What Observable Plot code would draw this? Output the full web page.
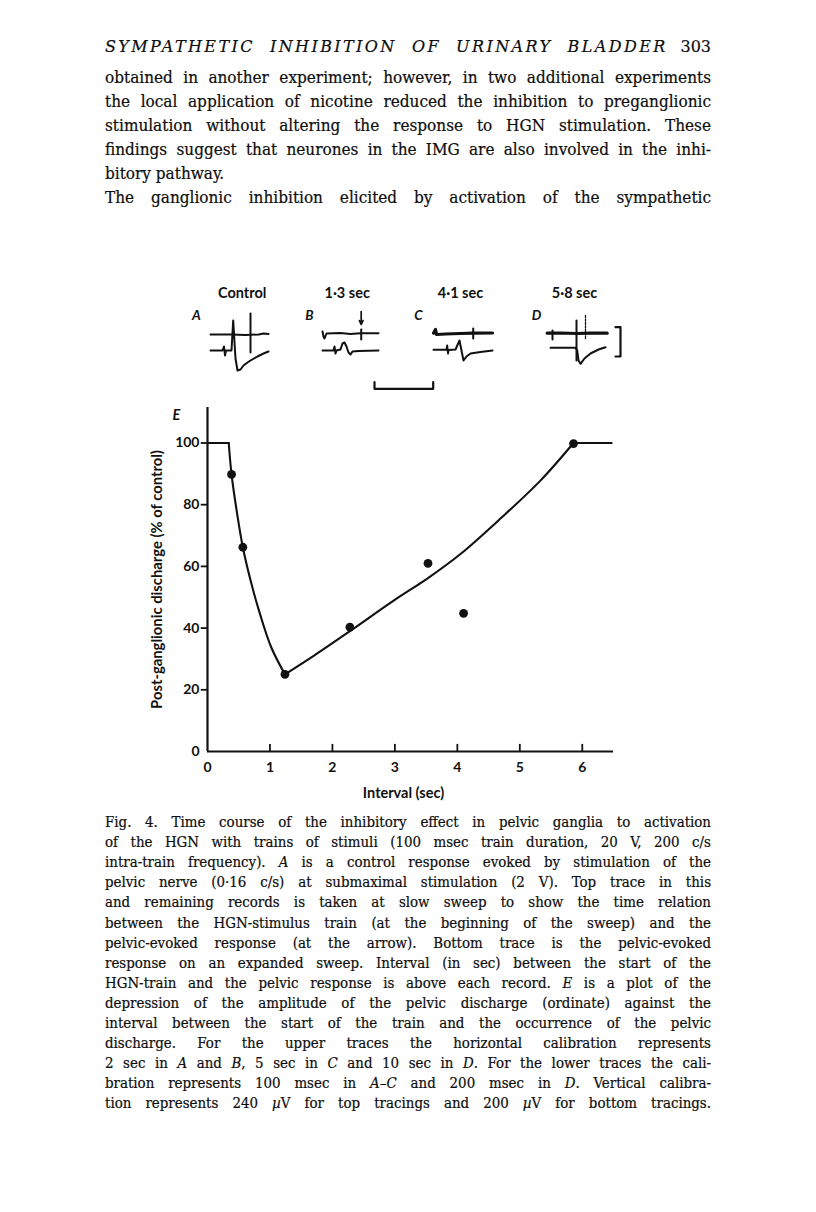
<!DOCTYPE html>
<html><head><meta charset="utf-8">
<script src="https://cdn.jsdelivr.net/npm/d3@7"></script>
<script src="https://cdn.jsdelivr.net/npm/@observablehq/plot@0.6"></script>
<style>
html,body{margin:0;padding:0;background:#fff;}
body{width:816px;height:1212px;position:relative;overflow:hidden;color:#0d0d0d;}
.ln{position:absolute;left:105px;width:606px;white-space:nowrap;text-align:justify;text-align-last:justify;font-family:"DejaVu Serif Condensed","DejaVu Serif",serif;font-stretch:condensed;-webkit-text-stroke:0.2px #0d0d0d;}
.body{font-size:17px;height:24px;line-height:24px;}
.cap{font-size:14.9px;height:21px;line-height:21px;}
.left{text-align:left;text-align-last:left;}
.hdr{font-size:16px;height:24px;line-height:24px;font-family:"DejaVu Serif",serif;font-stretch:normal;}
.hdr i{letter-spacing:2.4px;}
.fig{position:absolute;}
</style></head><body>
<div id="text"></div>
<div id="traces" class="fig" style="left:180px;top:270px;"></div>
<div id="chart" class="fig" style="left:140px;top:395px;"></div>
<script>
// ---------- text ----------
const headerLine = "<i>SYMPATHETIC INHIBITION OF URINARY BLADDER</i> 303";
const bodyLines = [
  "obtained in another experiment; however, in two additional experiments",
  "the local application of nicotine reduced the inhibition to preganglionic",
  "stimulation without altering the response to HGN stimulation. These",
  "findings suggest that neurones in the IMG are also involved in the inhi-",
  "bitory pathway.",
  "The ganglionic inhibition elicited by activation of the sympathetic"
];
const captionLines = [
  "Fig. 4. Time course of the inhibitory effect in pelvic ganglia to activation",
  "of the HGN with trains of stimuli (100 msec train duration, 20 V, 200 c/s",
  "intra-train frequency). <i>A</i> is a control response evoked by stimulation of the",
  "pelvic nerve (0·16 c/s) at submaximal stimulation (2 V). Top trace in this",
  "and remaining records is taken at slow sweep to show the time relation",
  "between the HGN-stimulus train (at the beginning of the sweep) and the",
  "pelvic-evoked response (at the arrow). Bottom trace is the pelvic-evoked",
  "response on an expanded sweep. Interval (in sec) between the start of the",
  "HGN-train and the pelvic response is above each record. <i>E</i> is a plot of the",
  "depression of the amplitude of the pelvic discharge (ordinate) against the",
  "interval between the start of the train and the occurrence of the pelvic",
  "discharge. For the upper traces the horizontal calibration represents",
  "2 sec in <i>A</i> and <i>B</i>, 5 sec in <i>C</i> and 10 sec in <i>D</i>. For the lower traces the cali-",
  "bration represents 100 msec in <i>A–C</i> and 200 msec in <i>D</i>. Vertical calibra-",
  "tion represents 240 <i>µ</i>V for top tracings and 200 <i>µ</i>V for bottom tracings."
];

const textBox = document.getElementById("text");
function addLine(html, cls, top) {
  const d = document.createElement("div");
  d.className = "ln " + cls;
  d.style.top = top + "px";
  d.innerHTML = html;
  textBox.appendChild(d);
}
addLine(headerLine, "hdr", 35);
bodyLines.forEach((t, i) => addLine(t, "body" + (i === 4 ? " left" : ""), 65 + i * 24));
captionLines.forEach((t, i) => addLine(t, "cap", 812 + i * 20.1));

// ---------- oscilloscope records (figure units) ----------
const recordLabels = ["Control", "1·3 sec", "4·1 sec", "5·8 sec"];
const recordLabelX = [241.7, 346.7, 460, 574];
const panelLetters = ["A", "B", "C", "D"];
const panelLetterX = [196, 309, 418, 536];

const traceA_top = [[210,334],[230,334],[245,334.5],[258,334],[263,333],[268,333.5]];
const traceA_mark = [[250,313],[250,352]];
const traceA_bottom = [[210,350],[222,350],[223.5,346],[224.5,355],[225.5,350],[231,350],[232.7,320],[235,358],[237,370],[240,369],[243,365],[247,362],[250,360],[257,356],[263,353],[268,351]];
const traceB_top = [[322,331],[323,336],[324,338],[326,333],[340,332.5],[350,333.5],[360,332.7],[378,332.7]];
const traceB_mark = [[360.7,329],[360.7,339]];
const traceB_bottom = [[322,350],[333,350],[334,346],[335,353],[336,350],[340,349],[342,343],[344,342],[346,346],[348,352],[350,354],[352,351],[358,350.5],[378,350]];
const traceC_top = [[433,332.7],[435,329],[436,334],[445,333.5],[460,333],[472.7,332.7],[492,332.5]];
const traceC_mark = [[472.7,328],[472.7,338]];
const traceC_bottom = [[433,349.3],[446,349.3],[446.7,345],[447.5,353],[448,349.5],[455,349],[459,340],[461,350],[463,360],[466,356],[470,353],[480,351.5],[492,350]];
const traceD_top = [[546.7,332.7],[560,332.5],[576,333],[590,332.7],[606.7,332.7]];
const traceD_mark1 = [[552,330],[552,339]];
const traceD_mark2 = [[576,320],[576,360]];
const traceD_mark3 = [[585,315],[585,338]];
const traceD_bottom = [[550,347.3],[575,347.3],[576.7,350],[578,360],[580,363.3],[584,358],[590,353],[598,349],[605,346.7]];
const calibV = [[615,326.7],[620,326.7],[620,356],[615,356]];
const calibH = [[374,381.7],[374,388.3],[432.7,388.3],[432.7,381.7]];
const arrowB = {x: 360.7, y1: 311, y2: 324};

const thin = [traceA_top, traceA_mark, traceA_bottom, traceB_top, traceB_mark, traceB_bottom,
  traceC_bottom, traceC_mark, traceD_mark1, traceD_mark2, traceD_bottom];
const thick = [traceC_top, traceD_top];
const cal = [calibV, calibH];
const toRows = (arrs) => arrs.flatMap((a, k) => a.map(([x, y]) => ({x, y, k})));

const traces = Plot.plot({
  width: 460, height: 130, margin: 0,
  x: {domain: [180, 640], axis: null},
  y: {domain: [400, 270], axis: null},
  style: {fontFamily: "Lato", fontWeight: "bold"},
  marks: [
    Plot.line(toRows(thin), {x: "x", y: "y", z: "k", stroke: "#111", strokeWidth: 2}),
    Plot.line(toRows(thick), {x: "x", y: "y", z: "k", stroke: "#111", strokeWidth: 3.2}),
    Plot.line(toRows([traceD_mark3]), {x: "x", y: "y", stroke: "#111", strokeWidth: 1.3, strokeDasharray: "2,1.5"}),
    Plot.line(toRows(cal), {x: "x", y: "y", z: "k", stroke: "#111", strokeWidth: 2.2}),
    Plot.arrow([arrowB], {x: "x", y1: "y1", y2: "y2", stroke: "#111", strokeWidth: 1.7, headLength: 6, headAngle: 50}),
    Plot.text(recordLabels, {x: (d, i) => recordLabelX[i], y: 292.7, text: d => d, fontSize: 14.5, fill: "#111"}),
    Plot.text(panelLetters, {x: (d, i) => panelLetterX[i], y: 315, text: d => d, fontSize: 13.5, fontStyle: "italic", fill: "#111"})
  ]
});
document.getElementById("traces").appendChild(traces);

// ---------- graph E ----------
const xTicks = [1, 2, 3, 4, 5, 6];
const xTickLabels = [0, 1, 2, 3, 4, 5, 6];
const yTicks = [20, 40, 60, 80, 100];
const yTickLabels = [0, 20, 40, 60, 80, 100];

const obsX = [0.385, 0.566, 1.24, 2.28, 3.53, 4.10, 5.86];
const obsY = [89.8, 66.2, 25, 40.3, 61, 44.8, 99.8];

const fitSeg = ["a","a", "b","b","b","b","b","b","b","b", "c","c","c","c","c","c","c","c","c", "d","d"];
const fitX = [0, 0.34,   0.34, 0.385, 0.475, 0.566, 0.69, 0.84, 1.02, 1.24,   1.24, 1.7, 2.28, 2.98, 3.53, 4.05, 4.69, 5.33, 5.86,   5.86, 6.47];
const fitY = [100, 100,  100, 89.8, 77, 66.2, 55.4, 44.6, 33.8, 25,           25, 31, 39, 48.9, 56.2, 64, 75.5, 87.8, 100,          100, 100];

const fit = fitX.map((x, i) => ({x, y: fitY[i], seg: fitSeg[i]}));
const obs = obsX.map((x, i) => ({x, y: obsY[i]}));

const chart = Plot.plot({
  width: 490, height: 420,
  marginLeft: 67, marginRight: 17, marginTop: 12, marginBottom: 64,
  x: {domain: [0, 6.5], axis: null},
  y: {domain: [0, 111.5], axis: null},
  style: {fontFamily: "Lato", fontWeight: "bold", color: "#111"},
  marks: [
    Plot.ruleX([0], {y1: 0, y2: 111.5, strokeWidth: 2.2, stroke: "#111"}),
    Plot.ruleY([0], {x1: 0, x2: 6.5, strokeWidth: 2.2, stroke: "#111"}),
    Plot.ruleY(yTicks, {x1: -0.1, x2: 0, y: d => d, strokeWidth: 1.8, stroke: "#111"}),
    Plot.ruleX(xTicks, {x: d => d, y1: 0, y2: 2.3, strokeWidth: 1.8, stroke: "#111"}),
    Plot.text(yTickLabels, {x: 0, y: d => d, text: d => String(d), textAnchor: "end", dx: -8, fontSize: 14, fill: "#111"}),
    Plot.text(xTickLabels, {x: d => d, y: 0, text: d => String(d), dy: 16, fontSize: 14, fill: "#111"}),
    Plot.line(fit, {x: "x", y: "y", z: "seg", curve: "catmull-rom", strokeWidth: 2.1, stroke: "#111"}),
    Plot.dot(obs, {x: "x", y: "y", r: 4.4, fill: "#111", stroke: "none"}),
    Plot.text(["Post-ganglionic discharge (% of control)"], {frameAnchor: "left", textAnchor: "middle", dx: -50, rotate: -90, fontSize: 14.8, fill: "#111"}),
    Plot.text(["Interval (sec)"], {frameAnchor: "bottom", dx: -7, dy: 46, fontSize: 14.5, fill: "#111"}),
    Plot.text(["E"], {frameAnchor: "top-left", textAnchor: "middle", dx: -31, dy: 2, fontSize: 14.5, fontStyle: "italic", fill: "#111"})
  ]
});
document.getElementById("chart").appendChild(chart);
</script>
</body></html>
